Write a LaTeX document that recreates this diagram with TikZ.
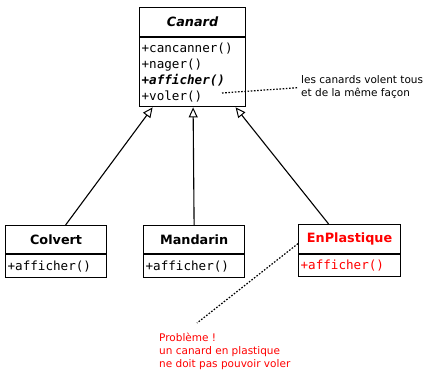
\documentclass[tikz,border=0pt]{standalone}
\usepackage{fontspec}
\setmainfont{DejaVu Sans}
\setmonofont{DejaVu Sans Mono}
\usetikzlibrary{arrows.meta}
\definecolor{warnred}{RGB}{255,0,0}
\begin{document}
\begin{tikzpicture}[x=1pt,y=-1pt,
  clsbox/.style={draw=black, line width=1.2pt, anchor=north west, inner sep=0pt},
  clstitle/.style={clsbox, font=\fontsize{12.8}{15}\selectfont\bfseries},
  clsbody/.style={clsbox, font=\fontsize{12.6}{16}\ttfamily, align=left, inner xsep=2pt},
  inherit/.style={line width=1.1pt, -{Triangle[open, length=10pt, width=9pt, line width=1pt]}},
  noteline/.style={line width=1.2pt, dash pattern=on 1.6pt off 1.6pt},
  notetext/.style={font=\fontsize{10.5}{13}\selectfont, align=left, inner sep=0pt, anchor=north west}]
  \useasboundingbox (0,0) rectangle (428,372);

  % superclass
  \node[clstitle, minimum width=106pt, minimum height=29pt] (canardT) at (139,7) {\textit{Canard}};
  \node[clsbody, text width=102pt, minimum height=69pt] (canardB) at (canardT.south west)
    {+cancanner()\\+nager()\\\textbf{\textit{+afficher()}}\\+voler()};

  % subclasses
  \node[clstitle, minimum width=101pt, minimum height=28pt] (colvertT) at (5,225) {Colvert};
  \node[clsbody, text width=97pt, minimum height=23pt] (colvertB) at (colvertT.south west) {+afficher()};

  \node[clstitle, minimum width=101pt, minimum height=28pt] (mandarinT) at (143,225) {Mandarin};
  \node[clsbody, text width=97pt, minimum height=23pt] (mandarinB) at (mandarinT.south west) {+afficher()};

  \node[clstitle, text=warnred, minimum width=102pt, minimum height=29pt] (plastT) at (298,224) {EnPlastique};
  \node[clsbody, text=warnred, text width=98pt, minimum height=22pt] (plastB) at (plastT.south west) {+afficher()};

  % inheritance
  \draw[inherit] ([xshift=9.5pt]colvertT.north) -- ([xshift=-40pt]canardB.south);
  \draw[inherit] (mandarinT.north) -- ([xshift=0.5pt]canardB.south);
  \draw[inherit] ([xshift=-21pt]plastT.north) -- ([xshift=43pt]canardB.south);

  % notes
  \node[notetext] (note) at (301,75) {les canards volent tous\\et de la même façon};
  \coordinate (volerEnd) at (222,93);
  \draw[noteline] (volerEnd) -- ([xshift=-3pt,yshift=-1pt]note.west);

  \node[notetext, text=warnred] (probleme) at (159,333) {Problème !\\un canard en plastique\\ne doit pas pouvoir voler};
  \coordinate (probEnd) at (197,323);
  \draw[noteline] ([yshift=-4.5pt]plastT.west) -- (probEnd);
\end{tikzpicture}
\end{document}
